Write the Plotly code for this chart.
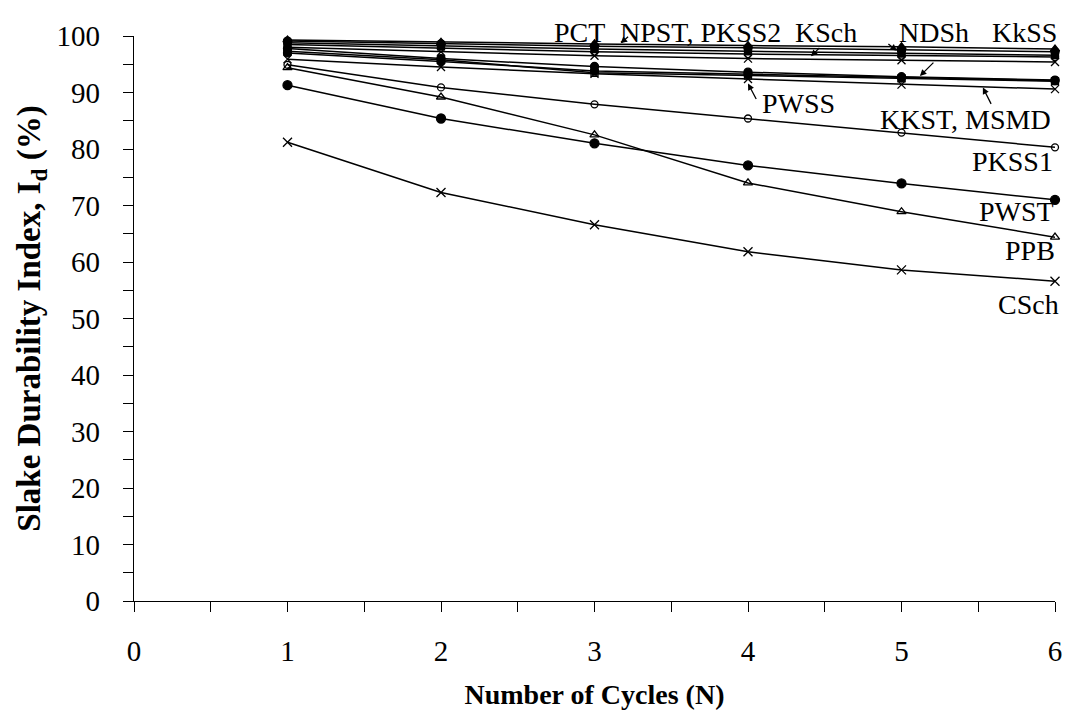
import plotly.graph_objects as go

cycles = [1, 2, 3, 4, 5, 6]

# Series values (Slake durability index, %)
ndsh = [99.3, 98.9, 98.6, 98.3, 98.1, 97.7]
pct = [99.1, 98.6, 98.2, 97.9, 97.5, 97.2]
npst = [98.8, 98.2, 97.7, 97.3, 96.9, 96.6]
pkss2 = [98.5, 97.8, 97.2, 96.8, 96.5, 96.3]
ksch = [98.0, 97.2, 96.5, 96.0, 95.7, 95.4]
kkss = [97.8, 96.0, 94.6, 93.6, 92.8, 92.2]
kkst = [97.3, 95.8, 93.5, 93.0, 92.5, 92.0]
msmd = [97.0, 95.5, 93.8, 93.2, 92.6, 92.1]
pwss = [95.9, 94.5, 93.3, 92.4, 91.4, 90.6]
pkss1 = [94.9, 90.9, 87.9, 85.4, 82.9, 80.3]
ppb = [94.4, 89.2, 82.5, 74.0, 68.9, 64.4]
pwst = [91.3, 85.4, 81.0, 77.1, 73.9, 71.0]
csch = [81.2, 72.3, 66.6, 61.8, 58.6, 56.6]

series = [
    ("NDSh", ndsh, "triangle-up", 8),
    ("PCT", pct, "circle", 8),
    ("NPST", npst, "square", 7),
    ("PKSS2", pkss2, "circle-open", 7),
    ("KSch", ksch, "x-thin-open", 8),
    ("KkSS", kkss, "circle", 8),
    ("KKST", kkst, "square-open", 7),
    ("MSMD", msmd, "circle", 8),
    ("PWSS", pwss, "x-thin-open", 8),
    ("PKSS1", pkss1, "circle-open", 7),
    ("PPB", ppb, "triangle-up-open", 8),
    ("PWST", pwst, "circle", 9),
    ("CSch", csch, "x-thin-open", 9),
]

FONT = "Liberation Serif"

fig = go.Figure()
for name, vals, sym, size in series:
    fig.add_trace(go.Scatter(
        x=cycles, y=vals, mode="lines+markers", name=name,
        line=dict(color="black", width=1.5),
        marker=dict(symbol=sym, size=size, color="black",
                    line=dict(color="black", width=1.3)),
        showlegend=False, cliponaxis=False,
    ))

# Text labels along the top of the plot
top_labels = [
    ("PCT", 2.9),
    ("NPST, PKSS2", 3.69),
    ("KSch", 4.51),
    ("NDSh", 5.21),
    ("KkSS", 5.8),
]
for t, x in top_labels:
    fig.add_annotation(x=x, y=100, yshift=4, text=t, showarrow=False,
                       font=dict(family=FONT, size=28, color="black"))

labels = [
    ("PWSS", 4.33, 88.0),
    ("KKST, MSMD", 5.42, 85.2),
    ("PKSS1", 5.72, 77.7),
    ("PWST", 5.75, 68.9),
    ("PPB", 5.84, 62.0),
    ("CSch", 5.83, 52.5),
]
for t, x, y in labels:
    fig.add_annotation(x=x, y=y, text=t, showarrow=False,
                       font=dict(family=FONT, size=28, color="black"))

# Arrows (tip in data coords, tail offset in px)
arrows = [
    (3.17, 98.7, 9, -8),
    (4.41, 96.4, 10, -10),
    (4.97, 97.4, -10, -8),
    (5.12, 92.9, 15, -15),
    (4.0, 91.6, 9, 17),
    (5.53, 90.9, 9, 18),
]
for x, y, ax, ay in arrows:
    fig.add_annotation(x=x, y=y, ax=ax, ay=ay, text="", showarrow=True,
                       arrowhead=2, arrowsize=1, arrowwidth=1.3,
                       arrowcolor="black")

fig.update_layout(
    width=1066, height=709,
    margin=dict(l=126, r=17, t=20, b=116),
    paper_bgcolor="white", plot_bgcolor="white",
    font=dict(family=FONT, size=28, color="black"),
    xaxis=dict(
        range=[0, 6], tickmode="linear", tick0=0, dtick=1,
        showgrid=False, zeroline=False, showline=True,
        linecolor="black", linewidth=1.3,
        ticks="outside", ticklen=10, tickcolor="black", tickwidth=1.3,
        minor=dict(dtick=0.5, ticks="outside", ticklen=10,
                   tickcolor="black", tickwidth=1.3, showgrid=False),
        tickfont=dict(family=FONT, size=29),
        ticklabelstandoff=14,
        title=dict(text="<b>Number of Cycles (N)</b>",
                   font=dict(family=FONT, size=28), standoff=18),
    ),
    yaxis=dict(
        range=[0, 100], tickmode="linear", tick0=0, dtick=10,
        showgrid=False, zeroline=False, showline=True,
        linecolor="black", linewidth=1.3,
        ticks="outside", ticklen=10, tickcolor="black", tickwidth=1.3,
        minor=dict(dtick=5, ticks="outside", ticklen=10,
                   tickcolor="black", tickwidth=1.3, showgrid=False),
        tickfont=dict(family=FONT, size=29),
        ticklabelstandoff=17,
        title=dict(text="<b>Slake Durability Index, I<sub>d</sub> (%)</b>",
                   font=dict(family=FONT, size=33), standoff=5),
    ),
)

fig.write_html("out.html")
